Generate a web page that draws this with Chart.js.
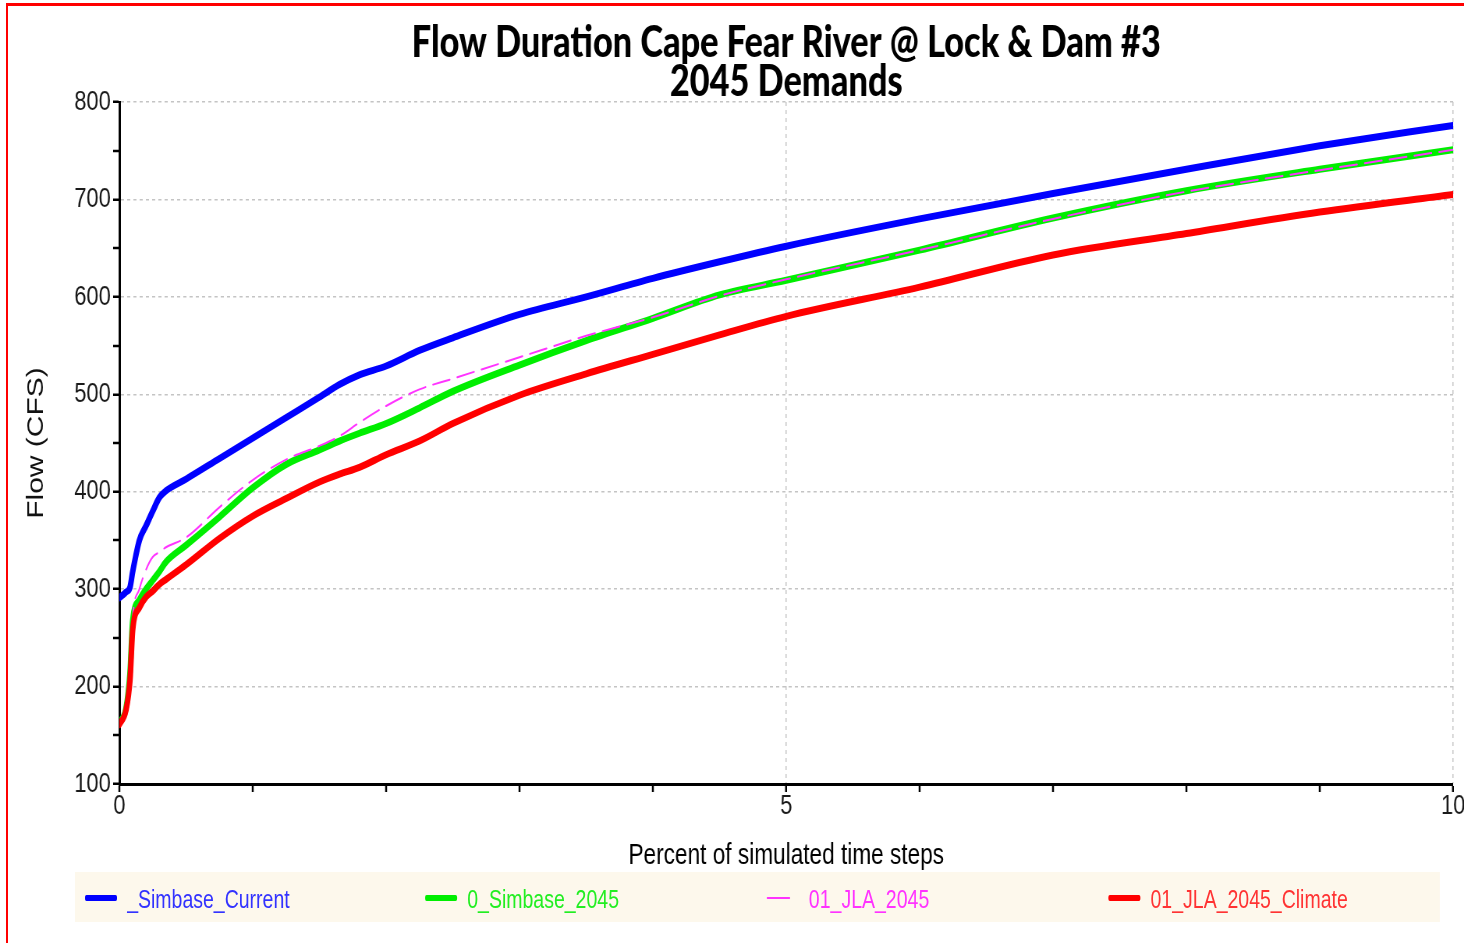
<!DOCTYPE html>
<html>
<head>
<meta charset="utf-8">
<script src="https://cdn.jsdelivr.net/npm/chart.js@4.4.1/dist/chart.umd.min.js"></script>
<style>
  html, body { margin: 0; padding: 0; background: #fff; overflow: hidden; }
  body { width: 1464px; height: 943px; position: relative; }
  #frame {
    position: absolute; left: 6px; top: 3px; width: 1600px; height: 1100px;
    border-top: 3px solid #ff0000; border-left: 2px solid #ff0000;
  }
  /* the original picture is squeezed horizontally, so draw wide and squeeze */
  #wrap {
    position: absolute; left: 0; top: 0; width: 1890px; height: 943px;
    transform: scaleX(0.78); transform-origin: 0 0;
  }
  #chart { position: absolute; left: 0; top: 0; }
  #legend {
    position: absolute; left: 96px; top: 872px; width: 1750px; height: 50px;
    background: #fdf8ec; font-family: "Liberation Sans", Arial, sans-serif; font-size: 25px;
  }
  .item { position: absolute; top: 0; height: 50px; line-height: 54px; white-space: nowrap; }
  .swatch { position: absolute; left: 0; top: 23px; width: 41px; height: 6px; border-radius: 2px; }
  .swatch.thin { top: 25px; width: 30px; height: 2px; }
  .label { position: absolute; left: 54px; top: 0; }
</style>
</head>
<body>
<div id="frame"></div>
<div id="wrap">
  <canvas id="chart" width="1890" height="880"></canvas>
  <div id="legend"></div>
</div>
<script>
// percent of simulated time steps (x)
const pct = [0, 0.05, 0.08, 0.1, 0.15, 0.2, 0.25, 0.3, 0.35, 0.5, 0.75, 1.0, 1.25, 1.5,
  1.65, 1.8, 2.0, 2.25, 2.5, 3.0, 3.5, 4.0, 4.5, 5, 6, 7, 8, 9, 10];

// flow (CFS) for each run
const simbaseCurrent = [291, 297, 302, 318, 350, 365, 380, 394, 401, 413, 434, 455, 476, 497,
  510, 520, 529, 545, 558, 582, 600, 619, 636, 652, 680, 706, 731, 755, 776];
const simbase2045 = [163, 178, 215, 268, 289, 300, 309, 318, 328, 345, 374, 404, 428, 443,
  452, 460, 470, 486, 503, 530, 555, 578, 602, 617, 648, 681, 709, 731, 751];
const jla2045 = [163, 178, 215, 271, 300, 320, 333, 338, 343, 353, 384, 412, 433, 447,
  457, 471, 488, 505, 516, 538, 560, 579, 601, 618, 648, 680, 708, 730, 751];
const jla2045Climate = [161, 176, 207, 258, 281, 292, 298, 305, 310, 325, 352, 375, 393, 410,
  418, 425, 438, 452, 470, 499, 521, 541, 561, 580, 610, 643, 665, 687, 705];

const seriesNames = ["_Simbase_Current", "0_Simbase_2045", "01_JLA_2045", "01_JLA_2045_Climate"];
const seriesColors = ["#0000ff", "#00ee00", "#ff33ff", "#ff0000"];
const textColors = ["#3333ff", "#22ee22", "#ff33ff", "#ff3333"];

const titleLines = ["Flow Duration Cape Fear River @ Lock & Dam #3", "2045 Demands"];
const xTitle = "Percent of simulated time steps";
const yTitle = "Flow (CFS)";
const xLabels = [0, 5, 10];

function points(values) {
  return pct.map((p, i) => ({ x: p, y: values[i] }));
}

let datasets = [
  { label: seriesNames[0], data: points(simbaseCurrent), borderColor: seriesColors[0], borderWidth: 7, order: 4 },
  { label: seriesNames[1], data: points(simbase2045), borderColor: seriesColors[1], borderWidth: 7, order: 3 },
  { label: seriesNames[2], data: points(jla2045), borderColor: seriesColors[2], borderWidth: 2, borderDash: [22, 10], order: 2 },
  { label: seriesNames[3], data: points(jla2045Climate), borderColor: seriesColors[3], borderWidth: 7, order: 1 },
];
datasets.forEach((d) => {
  d.pointRadius = 0;
  d.fill = false;
  d.cubicInterpolationMode = "monotone";
  d.borderCapStyle = "round";
});

const tickFont = { family: "Liberation Sans, Arial, sans-serif", size: 28, lineHeight: 1.0 };

var ctx = document.getElementById("chart").getContext("2d");
var chart = new Chart(ctx, {
  type: "line",
  data: { datasets: datasets },
  options: {
    responsive: false,
    animation: false,
    layout: { padding: { left: 0, right: 27, top: 0, bottom: 0 } },
    plugins: {
      legend: { display: false },
      tooltip: { enabled: false },
      title: {
        display: true,
        fullSize: false, // centre over the plot, not the whole canvas
        text: titleLines,
        color: "#000",
        font: { family: "Lato, sans-serif", size: 44, weight: 900, lineHeight: "39px" },
        padding: { top: 23, bottom: 1 },
      },
    },
    scales: {
      x: {
        type: "linear",
        min: 0,
        max: 10,
        ticks: {
          stepSize: 1,
          autoSkip: false,
          maxRotation: 0,
          padding: 0,
          color: "#1a1a1a",
          font: tickFont,
          callback: (v) => (xLabels.includes(v) ? v : ""),
        },
        grid: {
          color: "#c4c4c4",
          lineWidth: (c) => (c.tick && (c.tick.value === 5 || c.tick.value === 10) ? 1.5 : 0),
          tickColor: "#000",
          tickWidth: 2.5,
          tickLength: 8,
        },
        border: { display: true, color: "#000", width: 3, dash: [4, 4] },
        title: {
          display: true,
          text: xTitle,
          color: "#000",
          font: { family: "Liberation Sans, Arial, sans-serif", size: 29 },
          padding: { top: 0, bottom: 7 },
        },
        afterFit: (scale) => { scale.height = 96; },
      },
      y: {
        min: 100,
        max: 800,
        ticks: {
          stepSize: 50,
          padding: 3,
          color: "#1a1a1a",
          font: tickFont,
          callback: (v) => (v % 100 === 0 ? v : ""),
        },
        grid: {
          color: "#c4c4c4",
          lineWidth: (c) => (c.tick && c.tick.value % 100 === 0 ? 1.5 : 0),
          tickColor: "#000",
          tickWidth: 2.5,
          tickLength: 8,
        },
        border: { display: true, color: "#000", width: 3, dash: [4, 4] },
        title: {
          display: true,
          text: yTitle,
          color: "#111",
          font: { family: "Liberation Sans, Arial, sans-serif", size: 30 },
          padding: { top: 29, bottom: 0 },
        },
        afterFit: (scale) => { scale.width = 153; },
      },
    },
  },
});

// legend strip under the chart
const legendLeft = [13, 449, 887, 1325];
let legend = document.getElementById("legend");
seriesNames.forEach((name, i) => {
  let item = document.createElement("div");
  item.className = "item";
  item.style.left = legendLeft[i] + "px";
  let sw = document.createElement("span");
  sw.className = i === 2 ? "swatch thin" : "swatch";
  sw.style.background = seriesColors[i];
  let lb = document.createElement("span");
  lb.className = "label";
  lb.style.color = textColors[i];
  lb.textContent = name;
  item.appendChild(sw);
  item.appendChild(lb);
  legend.appendChild(item);
});
</script>
</body>
</html>
